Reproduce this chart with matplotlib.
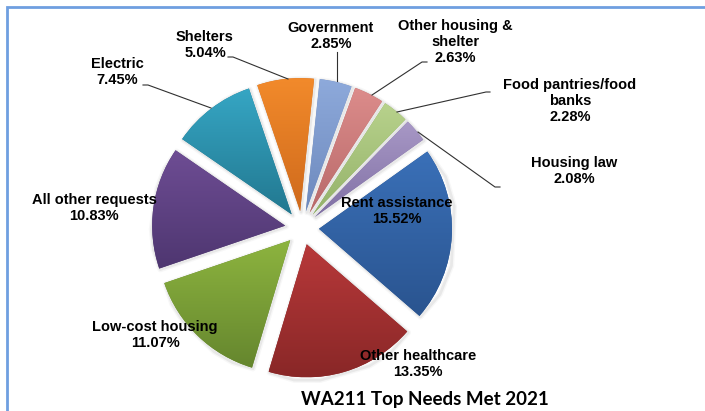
import numpy as np
import matplotlib.pyplot as plt
from matplotlib.colors import LinearSegmentedColormap

W, H = 705, 411

# share of all requests met, percent (slices run clockwise from Rent assistance)
needs = ['Rent assistance', 'Other healthcare', 'Low-cost housing',
         'All other requests', 'Electric', 'Shelters', 'Government',
         'Other housing &\nshelter', 'Food pantries/food\nbanks', 'Housing law']
shares = [15.52, 13.35, 11.07, 10.83, 7.45, 5.04, 2.85, 2.63, 2.28, 2.08]

# top / bottom gradient shades for each slice
shades = [('#3a70b8', '#2a548f'), ('#b8393a', '#892727'),
          ('#8db43f', '#65862e'), ('#6e4d94', '#4e3670'),
          ('#36a6c4', '#227890'), ('#f28a2b', '#cf6a1c'),
          ('#8eaadb', '#6d89bd'), ('#dc8c8b', '#b86969'),
          ('#b8d28c', '#93b169'), ('#a898c6', '#8070a4')]

# label centres and leader lines in pixel coordinates (y from top)
label_pos = [(397, 211), (418, 364), (155, 335), (94, 208), (117, 72),
             (205, 45), (331, 36), (455, 42), (570, 101), (574, 171)]
leaders = {4: [(143, 85), (148, 85), (211, 108)],
           5: [(228, 57), (233, 57), (288, 79)],
           6: [(337, 52), (337, 81)],
           7: [(427, 62), (422, 62), (372, 95)],
           8: [(490, 92), (486, 92), (397, 112)],
           9: [(500, 187), (495, 187), (418, 132)]}


def px(x, y):
    return x, H - y


fig = plt.figure(figsize=(W / 100, H / 100), dpi=100)
ax = fig.add_axes([0, 0, 1, 1])

cx, cy = px(302, 228)
radius = 133
# explode offsets are in data units (pixels here)
wedges, _ = ax.pie(shares, startangle=35.5, counterclock=False,
                   center=(cx, cy), radius=radius,
                   explode=[17] * len(shares),
                   wedgeprops=dict(linewidth=0))

for w, (top, bottom) in zip(wedges, shades):
    w.set_facecolor(bottom)
    w.set_zorder(2)
    # soft shadow under the slice, nudged down-right
    verts = w.get_path().vertices + np.array([1.0, -1.0])
    for lw, a in [(4, 0.04), (2, 0.08)]:
        sh = plt.Polygon(verts, closed=True, fill=False,
                         edgecolor='#404040', linewidth=lw, alpha=a,
                         zorder=1, joinstyle='round')
        ax.add_patch(sh)
    ext = w.get_path().get_extents()
    cm = LinearSegmentedColormap.from_list('g', [top, bottom])
    grad = np.linspace(0, 1, 256).reshape(-1, 1)
    im = ax.imshow(grad, cmap=cm, origin='upper', aspect='auto',
                   extent=[ext.x0, ext.x1, ext.y0, ext.y1], zorder=3,
                   interpolation='bilinear')
    im.set_clip_path(w)

label_font = ['Liberation Sans', 'DejaVu Sans']
for i, (name, val) in enumerate(zip(needs, shares)):
    x, y = px(*label_pos[i])
    ax.text(x, y, f'{name}\n{val:.2f}%', ha='center', va='center',
            ma='center', fontsize=10.5, fontweight='bold', family=label_font,
            linespacing=1.15, zorder=5)

for i, pts in leaders.items():
    xs, ys = zip(*[px(*p) for p in pts])
    ax.plot(xs, ys, color='#303030', linewidth=0.8, zorder=4)

ax.text(*px(425, 400), 'WA211 Top Needs Met 2021', ha='center', va='center',
        fontsize=13.5, fontweight='bold', family=['Lato', 'DejaVu Sans'])

# chart frame, left and top edges
ax.plot([7, 7, W], [0, H - 7, H - 7], color='#6f9fe0', linewidth=2,
        zorder=6, solid_joinstyle='miter')

ax.set_xlim(0, W)
ax.set_ylim(0, H)
ax.set_aspect('equal')
ax.axis('off')

fig.savefig('out.png', dpi=100)
